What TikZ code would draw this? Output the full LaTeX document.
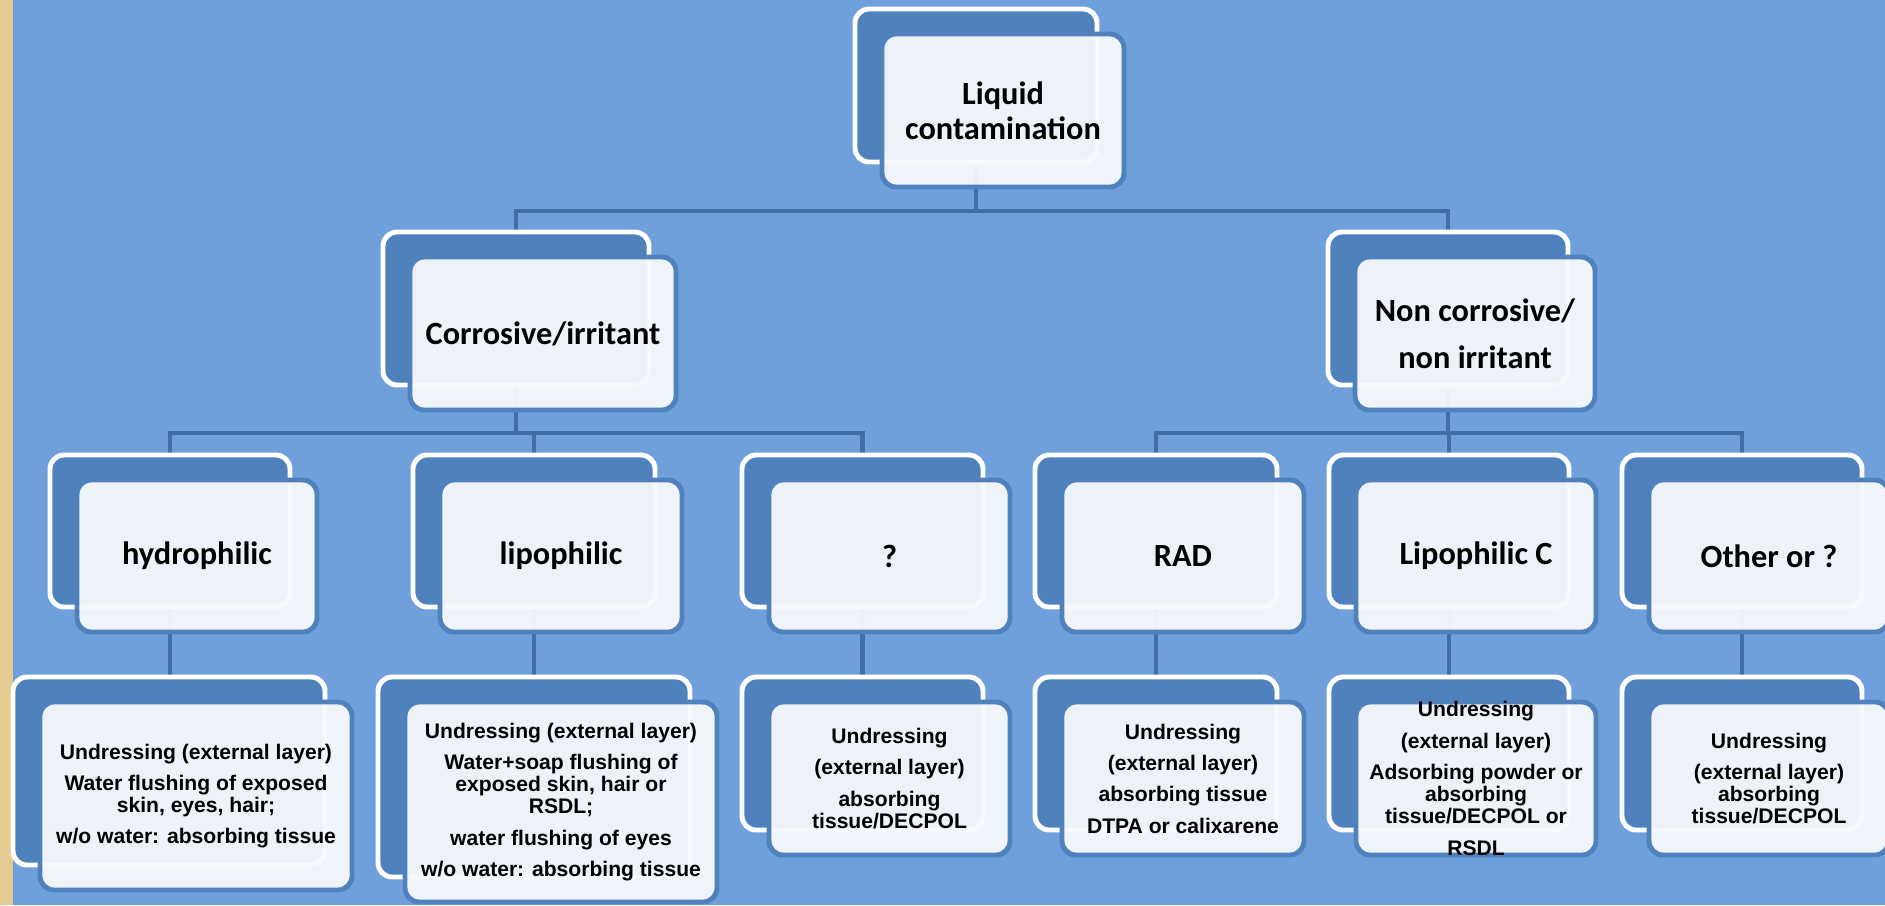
\documentclass[tikz,border=0pt]{standalone}
\usepackage{fontspec}
\usepackage{tikz}
\usetikzlibrary{backgrounds}
\newfontfamily\headfont{Carlito}
\newfontfamily\leaffont{Liberation Sans}
\definecolor{slideblue}{RGB}{111,160,219}
\definecolor{boxblue}{RGB}{79,129,189}
\definecolor{linkblue}{RGB}{66,110,168}
\definecolor{cardfill}{RGB}{246,248,252}
\definecolor{parchment}{RGB}{229,203,146}
\tikzset{
  backbox/.style={draw=white, fill=boxblue, line width=1.4pt, rounded corners=4pt, inner sep=0pt, outer sep=0pt},
  frontbox/.style={draw=boxblue, fill=cardfill, fill opacity=0.95, line width=1.4pt, rounded corners=4pt, inner sep=0pt, outer sep=0pt},
  headtxt/.style={font=\headfont\bfseries\fontsize{9.2}{10}\selectfont, align=center, inner sep=0pt},
  leaftxt/.style={font=\leaffont\bfseries\fontsize{6}{6.3}\selectfont, align=center, inner sep=0pt},
  link/.style={draw=linkblue, line width=1.4pt}
}
\newcommand{\stackbox}[7]{%
  \node[backbox, minimum width=#4*0.01cm, minimum height=#5*0.01cm] (#1-b) at (#2,#3) {};
  \node[frontbox, minimum width=#4*0.01cm, minimum height=#5*0.01cm] (#1-f) at ([shift={(27,25)}]#1-b.center) {};
  \node[#6] (#1) at (#1-f.center) {#7};}

\begin{document}
\begin{tikzpicture}[x=0.01cm, y=-0.01cm]
  \useasboundingbox (0,0) rectangle (1885,905);
  \stackbox{root}{976}{85.5}{242}{153}{headtxt}{Liquid\\contamination}
  \stackbox{corr}{516}{308.5}{266}{153}{headtxt}{Corrosive/irritant}
  \stackbox{noncorr}{1448}{308.5}{240}{153}{headtxt}{Non corrosive/\\[3.4pt]non irritant}
  \stackbox{hydro}{170}{531}{240}{152}{headtxt}{hydrophilic}
  \stackbox{lipo}{534}{531}{242}{152}{headtxt}{lipophilic}
  \stackbox{quest}{862.5}{531}{241}{152}{headtxt}{?}
  \stackbox{rad}{1156}{531}{242}{152}{headtxt}{RAD}
  \stackbox{lipc}{1449}{531}{240}{152}{headtxt}{Lipophilic C}
  \stackbox{other}{1742}{531}{240}{152}{headtxt}{Other or ?}
  \stackbox{hydro-leaf}{169}{771}{312}{188}{leaftxt}{Undressing (external layer)\\[2.6pt]Water flushing of exposed\\skin, eyes, hair;\\[2.6pt]w/o water: absorbing tissue}
  \stackbox{lipo-leaf}{534}{777}{312}{200}{leaftxt}{Undressing (external layer)\\[2.6pt]Water+soap flushing of\\exposed skin, hair or\\RSDL;\\[2.6pt]water flushing of eyes\\[2.6pt]w/o water: absorbing tissue}
  \stackbox{quest-leaf}{862.5}{753.5}{241}{153}{leaftxt}{Undressing\\[2.6pt](external layer)\\[2.6pt]absorbing\\tissue/DECPOL}
  \stackbox{rad-leaf}{1156}{753.5}{242}{153}{leaftxt}{Undressing\\[2.6pt](external layer)\\[2.6pt]absorbing tissue\\[2.6pt]DTPA or calixarene}
  \stackbox{lipc-leaf}{1449}{753.5}{240}{153}{leaftxt}{Undressing\\[2.6pt](external layer)\\[2.6pt]Adsorbing powder or\\absorbing\\tissue/DECPOL or\\[2.6pt]RSDL}
  \stackbox{other-leaf}{1742}{753.5}{240}{153}{leaftxt}{Undressing\\[2.6pt](external layer)\\absorbing\\tissue/DECPOL}
  \coordinate (bus1) at (0,211);
  \coordinate (bus2) at (0,433);
  \begin{scope}[on background layer]
    \fill[slideblue] (0,0) rectangle (1885,905);
    \fill[parchment] (0,0) rectangle (13,905);
    \draw[link] (root-b.south) -- (root-b.south |- bus1) -| (corr-b.north);
    \draw[link] (root-b.south |- bus1) -| (noncorr-b.north);
    \draw[link] (corr-b.south) -- (corr-b.south |- bus2) -| (hydro-b.north);
    \draw[link] (corr-b.south |- bus2) -| (lipo-b.north);
    \draw[link] (corr-b.south |- bus2) -| (quest-b.north);
    \draw[link] (noncorr-b.south) -- (noncorr-b.south |- bus2) -| (rad-b.north);
    \draw[link] (noncorr-b.south |- bus2) -| (lipc-b.north);
    \draw[link] (noncorr-b.south |- bus2) -| (other-b.north);
    \draw[link] (hydro-b.south) -- (hydro-b.south |- hydro-leaf-b.north);
    \draw[link] (lipo-b.south) -- (lipo-b.south |- lipo-leaf-b.north);
    \draw[link] (quest-b.south) -- (quest-b.south |- quest-leaf-b.north);
    \draw[link] (rad-b.south) -- (rad-b.south |- rad-leaf-b.north);
    \draw[link] (lipc-b.south) -- (lipc-b.south |- lipc-leaf-b.north);
    \draw[link] (other-b.south) -- (other-b.south |- other-leaf-b.north);
  \end{scope}
\end{tikzpicture}
\end{document}
